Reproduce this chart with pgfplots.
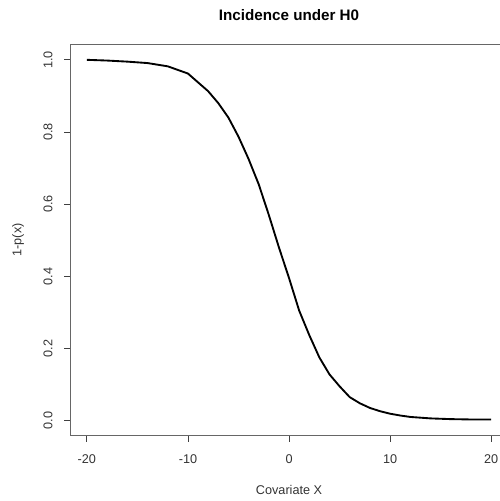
\documentclass[border=0pt]{standalone}
\usepackage{pgfplots}
\pgfplotsset{compat=1.18}
\usepackage{fontspec}
\setmainfont{Liberation Sans}
\begin{document}
\begin{tikzpicture}
\path[use as bounding box] (-53pt,-49.5pt) rectangle (321.25pt,326.2pt);
\begin{axis}[
  scale only axis,
  width=327.5pt, height=292.7pt,
  xmin=-21.6, xmax=21.6, ymin=-0.04, ymax=1.042,
  axis line style={draw=black!60, line width=0.6pt},
  xtick={-20,-10,0,10,20},
  ytick={0,0.2,0.4,0.6,0.8,1.0},
  tick align=outside,
  xtick pos=bottom, ytick pos=left,
  major tick length=5pt,
  tick style={black!75, line width=0.6pt},
  /pgf/number format/assume math mode=true,
  ticklabel style={font=\fontsize{9.5}{10}\selectfont, text=black!80},
  yticklabel style={/pgf/number format/fixed, /pgf/number format/fixed zerofill, /pgf/number format/precision=1, xshift=-12pt, rotate=90, anchor=center},
  xticklabel style={anchor=center, yshift=-13pt},
  title={\bfseries Incidence under H0},
  title style={at={(0.5,1)}, anchor=center, yshift=16.5pt, font=\fontsize{11.4}{12}\selectfont},
  xlabel={Covariate X},
  xlabel style={at={(axis description cs:0.5,-0.141)}, anchor=center, font=\fontsize{9.5}{10}\selectfont, text=black!80},
  ylabel={1-p(x)},
  ylabel style={at={(axis description cs:-0.1206,0.5)}, anchor=center, font=\fontsize{9.5}{10}\selectfont, text=black!80},
  clip=false,
]
\addplot[black, line width=1.4pt, line join=round] coordinates {
(-20,1.000) (-18,0.998) (-16,0.995) (-14,0.991) (-12,0.982) (-10,0.962)
(-8,0.913) (-7,0.880) (-6,0.840) (-5,0.787) (-4,0.725) (-3,0.655) (-2,0.570)
(-1,0.480) (0,0.395) (1,0.305) (2,0.237) (3,0.175) (4,0.128) (5,0.095)
(6,0.065) (7,0.048) (8,0.035) (9,0.026) (10,0.019) (11,0.014) (12,0.010)
(14,0.006) (16,0.004) (18,0.003) (20,0.003)
};
\end{axis}
\end{tikzpicture}
\end{document}
